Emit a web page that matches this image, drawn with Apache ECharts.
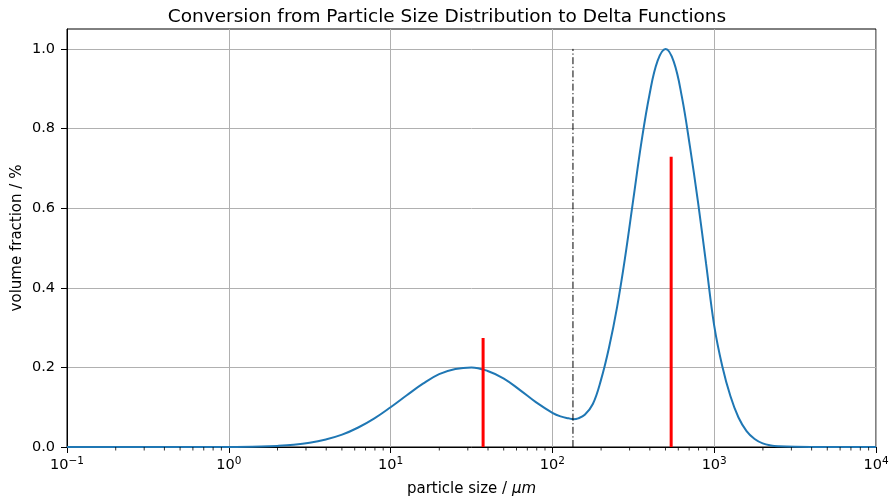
<!DOCTYPE html>
<html>
<head>
<meta charset="utf-8">
<script src="https://cdn.jsdelivr.net/npm/echarts@6/dist/echarts.min.js"></script>
<style>
html,body{margin:0;padding:0;background:#fff;}
#chart{width:894px;height:499px;}
</style>
</head>
<body>
<div id="chart"></div>
<script>
// Particle size (µm) and volume fraction
const sizes = [0.1, 0.316, 1, 1.585, 1.995, 2.512, 3.162, 3.981, 5.012, 6.31, 7.943, 10, 12.59, 15.85, 19.95, 25.12, 31.62, 39.81, 50.12, 63.1, 79.43, 100, 112.2, 125.9, 134.9, 144.5, 158.5, 177.8, 199.5, 223.9, 251.2, 281.8, 316.2, 354.8, 398.1, 446.7, 501.2, 562.3, 631, 707.9, 794.3, 891.3, 1000, 1122, 1259, 1413, 1585, 1778, 1995, 2239, 2512, 3162, 3981, 10000];
const fractions = [0, 0, 0.0002, 0.0013, 0.0028, 0.0056, 0.0106, 0.019, 0.031, 0.049, 0.072, 0.100, 0.130, 0.159, 0.183, 0.196, 0.200, 0.191, 0.172, 0.143, 0.112, 0.086, 0.077, 0.072, 0.070, 0.072, 0.081, 0.108, 0.168, 0.250, 0.352, 0.478, 0.622, 0.765, 0.885, 0.970, 1.000, 0.968, 0.880, 0.755, 0.615, 0.460, 0.305, 0.203, 0.128, 0.074, 0.040, 0.020, 0.009, 0.004, 0.002, 0.0005, 0.0001, 0];
// Delta functions
const deltaSizes = [37.3, 542];
const deltaHeights = [0.274, 0.729];
// Cut line
const cutSize = 134;
const cutTop = 1.0;
// Axis ticks
const yTicks = [0, 0.2, 0.4, 0.6, 0.8, 1.0];

const minorVals = [];
for (let k = -1; k <= 3; k++) for (let m = 2; m <= 9; m++) minorVals.push([m * Math.pow(10, k), 0]);

const FONT = 'DejaVu Sans';
const chart = echarts.init(document.getElementById('chart'), null, {renderer: 'canvas'});

const series = [
  {
    type: 'line', name: 'psd',
    data: sizes.map((s, i) => [s, fractions[i]]),
    showSymbol: false, smooth: 0.4,
    lineStyle: {color: '#1f77b4', width: 2},
    z: 3, silent: true
  }
];
deltaSizes.forEach((s, i) => {
  series.push({
    type: 'line', name: 'delta' + i,
    data: [[s, 0], [s, deltaHeights[i]]],
    showSymbol: false,
    lineStyle: {color: '#ff0000', width: 3},
    z: 4, silent: true
  });
});
series.push({
  type: 'line', name: 'cut',
  data: [[cutSize, 0], [cutSize, cutTop]],
  showSymbol: false,
  lineStyle: {color: '#000000', width: 1, type: [7, 2.5, 1.2, 2.5]},
  z: 5, silent: true
});
series.push({
  type: 'custom', name: 'minor',
  data: minorVals,
  clip: false, silent: true, z: 6,
  renderItem: function (params, api) {
    const p = api.coord([api.value(0), 0]);
    return {type: 'line', shape: {x1: p[0], y1: p[1], x2: p[0], y2: p[1] + 3.5}, style: {stroke: '#000', lineWidth: 0.8}};
  }
});

const option = {
  backgroundColor: '#ffffff',
  animation: false,
  title: {
    text: 'Conversion from Particle Size Distribution to Delta Functions',
    left: 'center', top: 3,
    textStyle: {fontFamily: FONT, fontSize: 18.5, fontWeight: 'normal', color: '#000'}
  },
  grid: {left: 67, right: 18, top: 29, bottom: 52, show: true, borderColor: '#000', borderWidth: 1, containLabel: false, outerBoundsMode: 'none'},
  xAxis: {
    type: 'log', logBase: 10, min: 0.1, max: 10000, splitNumber: 5,
    name: 'particle size / {i|μm}', nameLocation: 'middle', nameGap: 35,
    nameMoveOverlap: false,
    nameTextStyle: {fontFamily: FONT, fontSize: 15, color: '#000',
      rich: {i: {fontFamily: FONT, fontSize: 15, fontStyle: 'italic', color: '#000'}}},
    axisLine: {show: true, lineStyle: {color: '#000', width: 1}},
    axisTick: {show: true, length: 6, inside: false, lineStyle: {color: '#000', width: 1}},
    minorTick: {show: false},
    splitLine: {show: true, lineStyle: {color: '#b0b0b0', width: 1}},
    axisLabel: {
      margin: 9, color: '#000', fontFamily: FONT, fontSize: 14.5,
      formatter: function (v) {
        const e = Math.round(Math.log10(v));
        return '{b|10}{s|' + (e < 0 ? '−' + (-e) : e) + '}';
      },
      rich: {
        b: {fontFamily: FONT, fontSize: 14.5, color: '#000', lineHeight: 19},
        s: {fontFamily: FONT, fontSize: 10.5, color: '#000', verticalAlign: 'top', lineHeight: 12}
      }
    }
  },
  yAxis: {
    type: 'value', min: 0, max: 1.05, interval: 0.2,
    name: 'volume fraction / %', nameLocation: 'middle', nameGap: 42,
    nameMoveOverlap: false,
    nameTextStyle: {fontFamily: FONT, fontSize: 15, color: '#000'},
    axisLine: {show: true, lineStyle: {color: '#000', width: 1}},
    axisTick: {show: true, length: 6, inside: false, lineStyle: {color: '#000', width: 1}, customValues: yTicks},
    splitLine: {show: true, lineStyle: {color: '#b0b0b0', width: 1}},
    axisLabel: {
      margin: 12, color: '#000', fontFamily: FONT, fontSize: 14.5,
      customValues: yTicks,
      formatter: function (v) { return v.toFixed(1); }
    }
  },
  series: series
};
chart.setOption(option);
</script>
</body>
</html>
